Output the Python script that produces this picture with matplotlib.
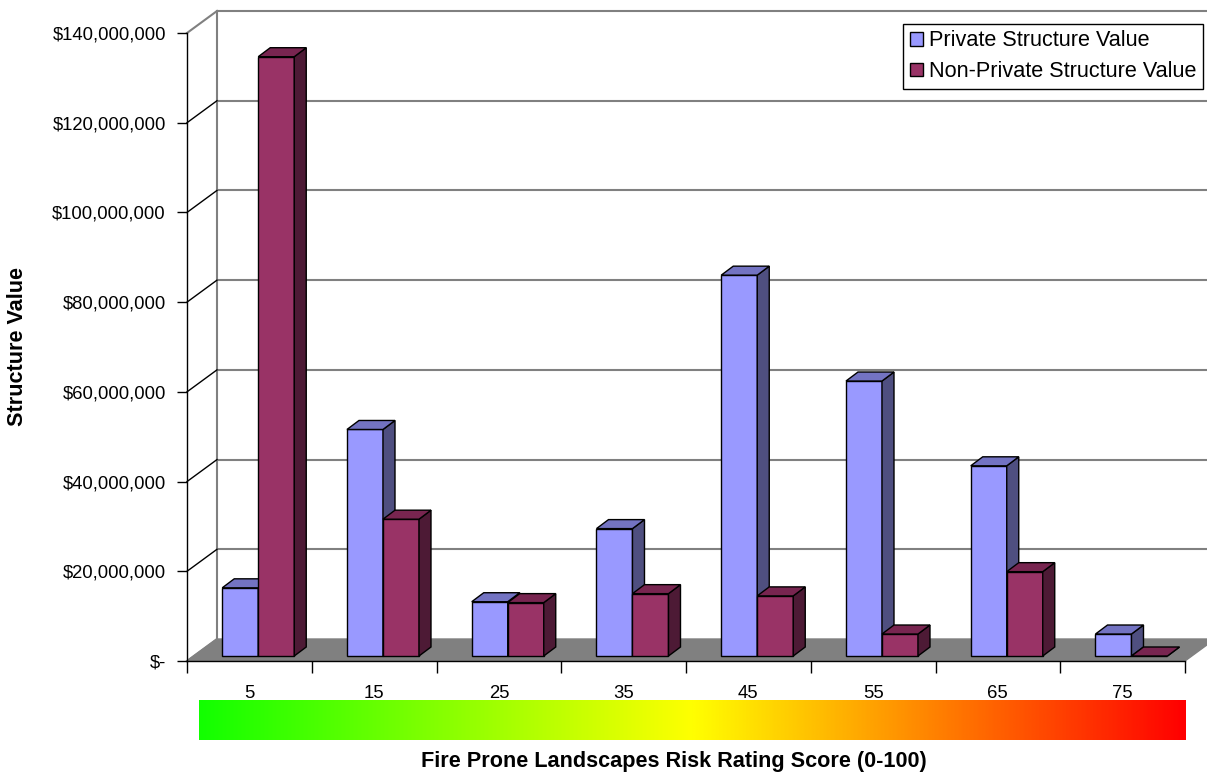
import numpy as np
import matplotlib
matplotlib.use("Agg")
import matplotlib.pyplot as plt
from matplotlib.patches import Polygon, Patch
from matplotlib.colors import LinearSegmentedColormap

# ---- data -------------------------------------------------------------
categories = ["5", "15", "25", "35", "45", "55", "65", "75"]
private_values = [15.2e6, 50.5e6, 12.1e6, 28.4e6, 84.9e6, 61.3e6, 42.4e6, 4.9e6]
nonprivate_values = [133.6e6, 30.5e6, 11.9e6, 13.9e6, 13.4e6, 4.9e6, 18.8e6, 0.0]
y_ticks = [0, 20e6, 40e6, 60e6, 80e6, 100e6, 120e6, 140e6]
series_labels = ["Private Structure Value", "Non-Private Structure Value"]
x_title = "Fire Prone Landscapes Risk Rating Score (0-100)"
y_title = "Structure Value"

# ---- styling ----------------------------------------------------------
plt.rcParams["font.family"] = ["Liberation Sans", "DejaVu Sans"]

face_colors = [
    # front, side, top
    ("#9999FF", "#4F4F80", "#7373C2"),
    ("#993366", "#4D1A35", "#782550"),
]
wall_gray = "#808080"

W, H = 1207, 775
fig = plt.figure(figsize=(W / 100, H / 100), dpi=100)
fig.patch.set_facecolor("white")

ax_w_px, ax_h_px = 998, 628
ax = fig.add_axes([187 / W, 1 - 661 / H, ax_w_px / W, ax_h_px / H])
n_cat = len(categories)
y_max = y_ticks[-1]
ax.set_xlim(0, n_cat)
ax.set_ylim(0, y_max)
ax.patch.set_visible(False)

# pixel -> data conversion for the oblique depth offsets
px_x = n_cat / ax_w_px
px_y = y_max / ax_h_px


def depth(dx_px, dy_px):
    return dx_px * px_x, dy_px * px_y


bx, by = depth(30, 22)      # back wall offset
fx, fy = depth(6.8, 5)      # front face of the bars
ddx, ddy = depth(12, 9)     # bar depth

# back wall gridlines
for v in y_ticks[1:]:
    ax.plot([bx, n_cat + bx + 1], [v + by, v + by], color=wall_gray,
            lw=1.5, clip_on=False, zorder=0.5, solid_capstyle="butt")
# back wall left edge
ax.plot([bx, bx], [by, y_max + by], color=wall_gray, lw=1.5,
        clip_on=False, zorder=0.5)
# side wall diagonals
for v in y_ticks:
    col = "black" if 0 < v < y_max else wall_gray
    lw = 1.0 if 0 < v < y_max else 1.5
    ax.plot([0, bx], [v, v + by], color=col, lw=lw, clip_on=False, zorder=0.6)

# floor
floor = Polygon([(0, 0), (n_cat, 0), (n_cat + bx, by), (bx, by)],
                closed=True, facecolor=wall_gray, edgecolor=wall_gray,
                lw=1.0, clip_on=False, zorder=0.8)
ax.add_patch(floor)

# bars
bar_w = 36 / 124.75
group_start = 0.228
z = 3
for i in range(n_cat):
    for s, vals in enumerate([private_values, nonprivate_values]):
        v = vals[i]
        front_c, side_c, top_c = face_colors[s]
        x0 = i + group_start + s * bar_w + fx
        x1 = x0 + bar_w
        y0 = fy
        faces = [
            ([(x0, y0), (x1, y0), (x1, y0 + v), (x0, y0 + v)], front_c),
            ([(x1, y0), (x1 + ddx, y0 + ddy), (x1 + ddx, y0 + ddy + v),
              (x1, y0 + v)], side_c),
            ([(x0, y0 + v), (x1, y0 + v), (x1 + ddx, y0 + v + ddy),
              (x0 + ddx, y0 + v + ddy)], top_c),
        ]
        for pts, c in faces:
            ax.add_patch(Polygon(pts, closed=True, facecolor=c,
                                 edgecolor="black", lw=1.0,
                                 joinstyle="miter", clip_on=False, zorder=z))
        z += 0.01

# axes
for side in ["top", "right"]:
    ax.spines[side].set_visible(False)
for side in ["left", "bottom"]:
    ax.spines[side].set_color("black")
    ax.spines[side].set_linewidth(1.0)

ax.set_yticks(y_ticks)
ax.set_yticklabels([f"${v:,.0f}" if v > 0 else "$-" for v in y_ticks])
ax.tick_params(axis="y", length=7.2, width=1.0, pad=8, labelsize=13.3,
               colors="black")

ax.set_xticks(np.arange(n_cat + 1))
ax.set_xticklabels([])
ax.set_xticks(np.arange(n_cat) + 0.5, minor=True)
ax.set_xticklabels(categories, minor=True)
ax.tick_params(axis="x", which="major", length=8.6, width=1.0)
ax.tick_params(axis="x", which="minor", length=0, pad=17, labelsize=13.3)

# legend
handles = [Patch(facecolor=face_colors[k][0], edgecolor="black", lw=1.0)
           for k in range(2)]
leg = ax.legend(handles, series_labels, loc="upper right",
                bbox_to_anchor=(1203 / W, 1 - 24 / H),
                bbox_transform=fig.transFigure, fontsize=15.6,
                frameon=True, fancybox=False, framealpha=1,
                edgecolor="black", handlelength=0.6, handleheight=0.6,
                handletextpad=0.3, labelspacing=0.45, borderpad=0.3,
                borderaxespad=0)
leg.get_frame().set_linewidth(1.0)
leg.set_zorder(10)

# risk gradient strip
gax = fig.add_axes([199 / W, 1 - 740 / H, 987 / W, 40 / H])
risk_cmap = LinearSegmentedColormap.from_list(
    "risk", [(0.0, "#12FF00"), (0.5, "#FFFF00"), (1.0, "#FF0000")])
gax.imshow(np.linspace(0, 1, 512).reshape(1, -1), cmap=risk_cmap,
           aspect="auto", interpolation="bilinear")
gax.set_axis_off()

# titles
fig.text(674 / W, 1 - 762 / H, x_title, ha="center", va="center",
         fontsize=15.6, fontweight="bold")
fig.text(18 / W, 1 - 347 / H, y_title, ha="center", va="center",
         rotation=90, fontsize=15.6, fontweight="bold")

fig.savefig("out.png", dpi=100)
